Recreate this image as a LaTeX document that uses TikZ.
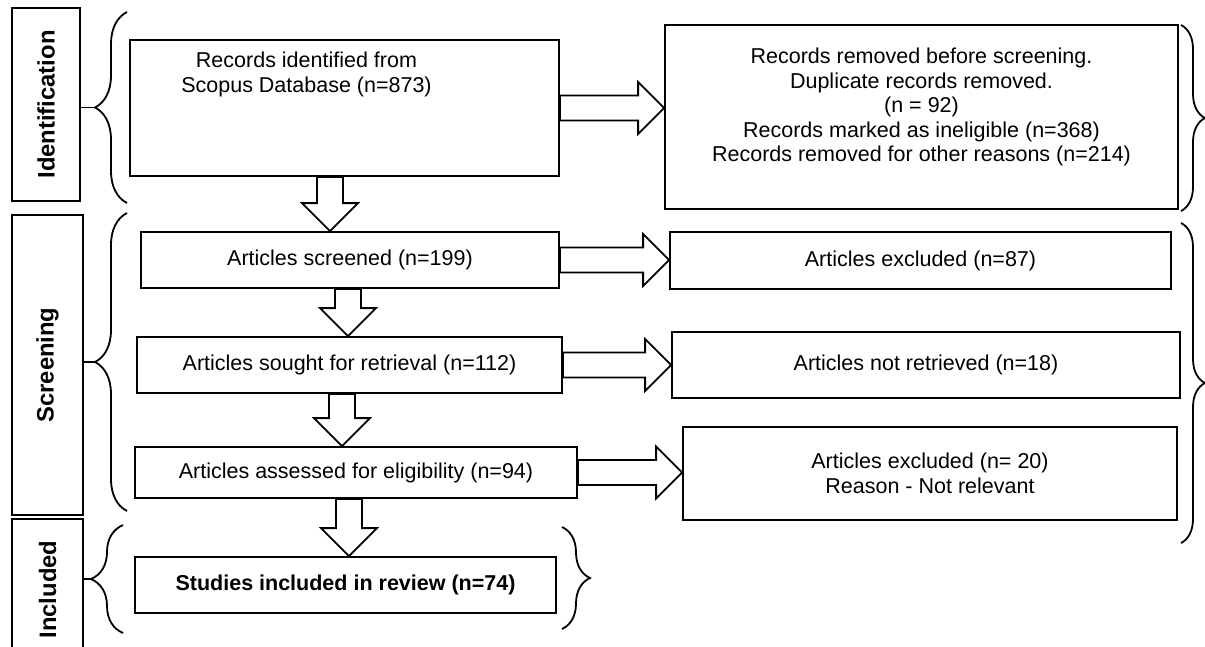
\documentclass[tikz,border=0pt]{standalone}
\usepackage{fontspec}
\setmainfont{Liberation Sans}
\usetikzlibrary{positioning,calc,decorations.pathreplacing}

\tikzset{
	box/.style={draw, line width=1.8pt, inner sep=0pt, align=center,
		font=\fontsize{21.5}{24.5}\selectfont},
	stagebox/.style={draw, line width=1.8pt, inner sep=0pt,
		font=\fontsize{23.8}{26}\selectfont\bfseries},
	txt/.style={inner sep=0pt, align=center, font=\fontsize{21.5}{24.5}\selectfont},
	fatarrow/.style={draw, line width=1.8pt, fill=white},
	bracket/.style={decoration={brace, amplitude=#1}, decorate, line width=1.8pt},
}

% block arrow from the east side of #1 to the west side of #2
\newcommand{\rightfat}[2]{%
	\draw[fatarrow] let \p1=(#1.east), \p2=(#2.west) in
		(\x1,\y1+12.5pt) -- (\x2-26pt,\y1+12.5pt) -- (\x2-26pt,\y1+26pt) -- (\x2,\y1)
		-- (\x2-26pt,\y1-26pt) -- (\x2-26pt,\y1-12.5pt) -- (\x1,\y1-12.5pt) -- cycle;}
% block arrow from the south side of #1 to the north side of #2, at x = #3
\newcommand{\downfat}[3]{%
	\draw[fatarrow] let \p1=(#1.south), \p2=(#2.north) in
		(#3pt-13pt,\y1) -- (#3pt-13pt,\y2+28pt) -- (#3pt-28pt,\y2+28pt) -- (#3pt,\y2)
		-- (#3pt+28pt,\y2+28pt) -- (#3pt+13pt,\y2+28pt) -- (#3pt+13pt,\y1) -- cycle;}

\begin{document}
\begin{tikzpicture}[x=1pt, y=-1pt]
	\useasboundingbox (0,0) rectangle (1205,646);

	% stages
	\node[stagebox, minimum width=68, minimum height=193] (idlab) at (46,104.5) {\rotatebox{90}{Identification}};
	\node[stagebox, minimum width=71, minimum height=300] (sclab) at (47.5,365) {\rotatebox{90}{Screening}};
	\node[stagebox, minimum width=71, minimum height=141] (inlab) at (47.5,589.5) {\rotatebox{90}{Included}};

	% left column
	\node[box, minimum width=429, minimum height=136] (rec) at (344.5,108) {};
	\node[txt, below=13pt of rec.north, xshift=-38pt] (rectxt) {Records identified from\\Scopus Database (n=873)};
	\node[box, minimum width=418, minimum height=56] (scr) at (350,260) {Articles screened (n=199)};
	\node[box, minimum width=425, minimum height=56] (sou) at (349.5,365) {Articles sought for retrieval (n=112)};
	\node[box, minimum width=442, minimum height=51] (ass) at (356,472.5) {Articles assessed for eligibility (n=94)};
	\node[box, minimum width=421, minimum height=56, font=\fontsize{21.5}{24.5}\selectfont\bfseries] (inc) at (345.5,585) {Studies included in review (n=74)};

	% right column
	\node[box, minimum width=513, minimum height=184] (rem) at (921.5,117) {};
	\node[txt] (remtxt) at ([yshift=10pt]rem.center) {Records removed before screening.\\Duplicate records removed.\\(n = 92)\\Records marked as ineligible (n=368)\\Records removed for other reasons (n=214)};
	\node[box, minimum width=501, minimum height=57] (exc) at (920.5,260.5) {Articles excluded (n=87)};
	\node[box, minimum width=508, minimum height=66] (ret) at (926,365) {Articles not retrieved (n=18)};
	\node[box, minimum width=494, minimum height=93] (exc2) at (930,473.5) {Articles excluded (n= 20)\\Reason - Not relevant};

	% arrows
	\rightfat{rec}{rem}
	\rightfat{scr}{exc}
	\rightfat{sou}{ret}
	\rightfat{ass}{exc2}
	\downfat{rec}{scr}{330}
	\downfat{scr}{sou}{348}
	\downfat{sou}{ass}{342}
	\downfat{ass}{inc}{349}

	% braces
	\coordinate (idtop) at (127,12);
	\coordinate (idbot) at (127,203);
	\coordinate (idtip) at (95,107.5);
	\coordinate (sctop) at (127,213);
	\coordinate (scbot) at (127,511);
	\coordinate (sctip) at (95,362);
	\coordinate (intop) at (123,525);
	\coordinate (inbot) at (123,633);
	\coordinate (intip) at (91,579);
	\draw[bracket=32] (idbot) -- (idtop);
	\draw[bracket=32] (scbot) -- (sctop);
	\draw[bracket=32] (inbot) -- (intop);
	\draw[line width=1.8pt] (idlab.east |- idtip) -- (idtip);
	\draw[line width=1.8pt] (sclab.east |- sctip) -- (sctip);
	\draw[line width=1.8pt] (inlab.east |- intip) -- (intip);

	\coordinate (remtop) at (1181,25);
	\coordinate (rembot) at (1181,211);
	\coordinate (exctop) at (1181,223);
	\coordinate (excbot) at (1181,543);
	\coordinate (inctop) at (562,527);
	\coordinate (incbot) at (562,629);
	\draw[bracket=24] (remtop) -- (rembot);
	\draw[bracket=24] (exctop) -- (excbot);
	\draw[bracket=28] (inctop) -- (incbot);
\end{tikzpicture}
\end{document}
